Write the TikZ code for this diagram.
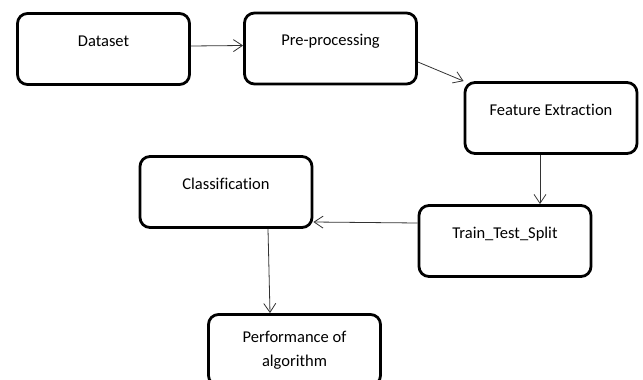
\documentclass[tikz,border=0pt]{standalone}
\usepackage{fontspec}
\setmainfont{Carlito}[Ligatures=CommonOff]
\usetikzlibrary{arrows.meta}

\begin{document}
\begin{tikzpicture}[x=1pt,y=-1pt,
        stage/.style={draw,line width=2.8pt,rounded corners=10pt,minimum width=172pt,minimum height=71pt,
            inner sep=0pt,text height=10pt,text depth=16pt,font=\fontsize{16.5}{24}\selectfont},
        link/.style={draw=black!80,line width=0.8pt,-{Straight Barb[length=9pt,width=12pt]}}]
            \useasboundingbox (0,0) rectangle (643,380);
            % stages
            \node[stage] (data) at (103.5,49) {Dataset};
            \node[stage] (pre) at (330.5,48.5) {Pre-processing};
            \node[stage] (feat) at (551,118) {Feature Extraction};
            \node[stage] (split) at (505,241) {Train\_Test\_Split};
            \node[stage] (class) at (226,192) {Classification};
            \node[stage,align=center,text height={},text depth={}] (perf) at (294.5,350) {Performance of\\algorithm};
            % connectors
            \draw[link] ([yshift=3pt]data.east)--([yshift=3pt]pre.west);
            \draw[link] ([yshift=-13.5pt]pre.east)--(feat.north west);
            \draw[link] ([xshift=-11pt]feat.south)--([xshift=-11pt]feat.south |- split.north);
            \draw[link] ([yshift=18pt]split.west)--([yshift=-30pt]class.east);
            \draw[link] ([xshift=42pt]class.south)--([xshift=-24.5pt]perf.north);
        \end{tikzpicture}
\end{document}
